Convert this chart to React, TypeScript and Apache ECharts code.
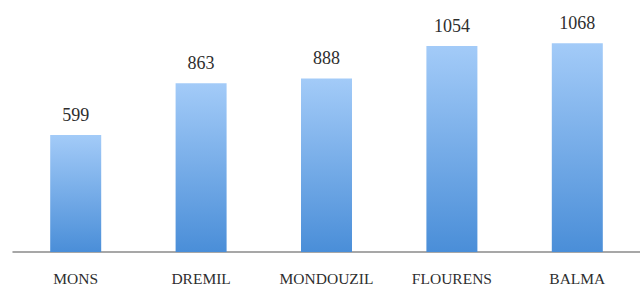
import React, { useEffect, useRef } from "react";
import * as echarts from "echarts";

const categories = ["MONS", "DREMIL", "MONDOUZIL", "FLOURENS", "BALMA"];
const values = [599, 863, 888, 1054, 1068];

export default function App() {
  const ref = useRef<HTMLDivElement>(null);
  useEffect(() => {
    if (!ref.current) return;
    const chart = echarts.init(ref.current, null, { renderer: "svg" });
    chart.setOption({
      animation: false,
      backgroundColor: "#ffffff",
      grid: { left: 13, right: -10, top: 17.4, bottom: 35 },
      xAxis: {
        type: "category",
        data: categories,
        axisLine: { lineStyle: { color: "#8a8a8a", width: 1.5 } },
        axisTick: { show: false },
        axisLabel: {
          color: "#2e2e2e",
          fontFamily: "Liberation Serif",
          fontSize: 15.5,
          margin: 18,
        },
      },
      yAxis: {
        type: "value",
        min: 0,
        max: 1200,
        show: false,
        splitLine: { show: false },
      },
      series: [
        {
          type: "bar",
          data: values,
          barWidth: 51,
          itemStyle: {
            color: new echarts.graphic.LinearGradient(0, 0, 0, 1, [
              { offset: 0, color: "#a3cbf8" },
              { offset: 1, color: "#4a8ed8" },
            ]),
          },
          label: {
            show: true,
            position: "top",
            distance: 11,
            color: "#2e2e2e",
            fontFamily: "Liberation Serif",
            fontSize: 18,
          },
        },
      ],
    });
    return () => chart.dispose();
  }, []);
  return (
    <div
      ref={ref}
      style={{ position: "fixed", left: 0, top: 0, width: 640, height: 287 }}
    />
  );
}
